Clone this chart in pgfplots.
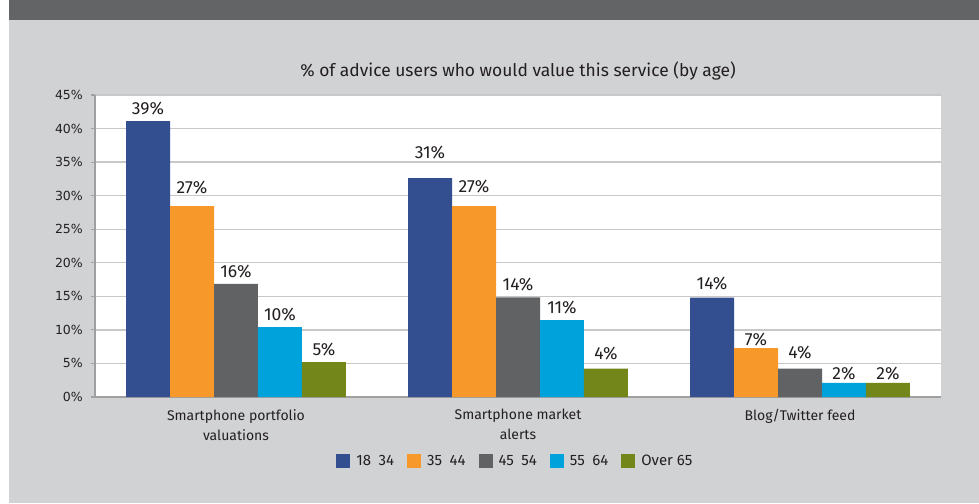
\documentclass[border=0pt]{standalone}
\usepackage{pgfplots}
\usepackage{pgfplotstable}
\pgfplotsset{compat=1.18}
\usepackage{fontspec}
\setmainfont{Fira Sans}
\newfontfamily\tickfont{DejaVu Sans}
\definecolor{cA}{HTML}{344F8F}
\definecolor{cB}{HTML}{F7982A}
\definecolor{cC}{HTML}{616264}
\definecolor{cD}{HTML}{00A2DC}
\definecolor{cE}{HTML}{72861A}
\definecolor{bgc}{HTML}{D1D2D4}
\definecolor{bandc}{HTML}{636466}
\definecolor{gridc}{HTML}{C8C8C8}
\definecolor{axisc}{HTML}{A0A0A0}
\definecolor{txt}{HTML}{231F20}

% x: category, y: bar height as drawn, lab: printed label, dy: extra label offset (pt)
\pgfplotstableread{
x y lab dy
0 41.1 39 0
1 32.6 31 13
2 14.8 14 1
}\tA
\pgfplotstableread{
x y lab dy
0 28.46 27 6
1 28.46 27 7
2 7.3 7 -4
}\tB
\pgfplotstableread{
x y lab dy
0 16.84 16 -1
1 14.86 14 0
2 4.22 4 3
}\tC
\pgfplotstableread{
x y lab dy
0 10.43 10 0
1 11.47 11 0
2 2.09 2 -4
}\tD
\pgfplotstableread{
x y lab dy
0 5.2 5 0
1 4.22 4 2
2 2.09 2 -4
}\tE

\begin{document}
\begin{tikzpicture}
\fill[white] (0pt,0pt) rectangle (979pt,503pt);
\fill[bgc] (9pt,0pt) rectangle (979pt,483pt);
\fill[bandc] (9pt,483pt) rectangle (979pt,503pt);
\node[font=\fontsize{17.4}{20}\selectfont, text=txt] at (518pt,432pt) {\% of advice users who would value this service (by age)};
\begin{axis}[
  at={(95pt,106pt)}, anchor=south west,
  scale only axis, width=846pt, height=302pt,
  axis background/.style={fill=white},
  ybar=0pt, bar width=0.156,
  xmin=-0.5, xmax=2.5, ymin=0, ymax=45,
  xtick={0,1,2},
  xticklabels={{Smartphone portfolio\\valuations},{Smartphone market\\alerts},{Blog/Twitter feed}},
  xticklabel style={align=center, font=\fontsize{14}{20}\selectfont, text=txt, inner sep=0pt, yshift=-8pt},
  x tick style={draw=none},
  ytick={0,5,...,45},
  yticklabel={\pgfmathprintnumber{\tick}\%},
  /pgf/number format/assume math mode=true,
  yticklabel style={font=\tickfont\fontsize{12.5}{14}\selectfont, text=txt, inner sep=0pt, xshift=-8pt},
  y tick style={draw=axisc, line width=1.2pt},
  tick align=outside, major tick length=4pt,
  ymajorgrids, grid style={draw=gridc, line width=1.4pt},
  axis x line*=bottom, axis y line*=left,
  axis line style={-, draw=axisc, line width=1.4pt},
  point meta=explicit symbolic,
  nodes near coords={\pgfplotspointmeta\%},
  visualization depends on={\thisrow{dy} \as \dy},
  every node near coord/.append style={anchor=base, inner sep=0pt, yshift=7pt+\dy pt, font=\fontsize{17.5}{20}\selectfont, text=txt},
  legend style={at={(0.497,-0.211)}, anchor=center, draw=none, fill=none,
    font=\fontsize{15}{18}\selectfont, text=txt, legend columns=5,
    /tikz/every odd column/.append style={column sep=4pt},
    /tikz/every even column/.append style={column sep=11pt}},
  legend image code/.code={\fill[#1,draw=none] (0pt,-7pt) rectangle (14pt,7pt);},
  clip=false,
]
\addplot[fill=cA, draw=none] table[x=x, y=y, meta=lab]{\tA};
\addplot[fill=cB, draw=none] table[x=x, y=y, meta=lab]{\tB};
\addplot[fill=cC, draw=none] table[x=x, y=y, meta=lab]{\tC};
\addplot[fill=cD, draw=none] table[x=x, y=y, meta=lab]{\tD};
\addplot[fill=cE, draw=none] table[x=x, y=y, meta=lab]{\tE};
\legend{18\enspace 34, 35\enspace 44, 45\enspace 54, 55\enspace 64, Over 65}
\end{axis}
\pgfresetboundingbox
\path[use as bounding box] (0pt,0pt) rectangle (979pt,503pt);
\end{tikzpicture}
\end{document}
